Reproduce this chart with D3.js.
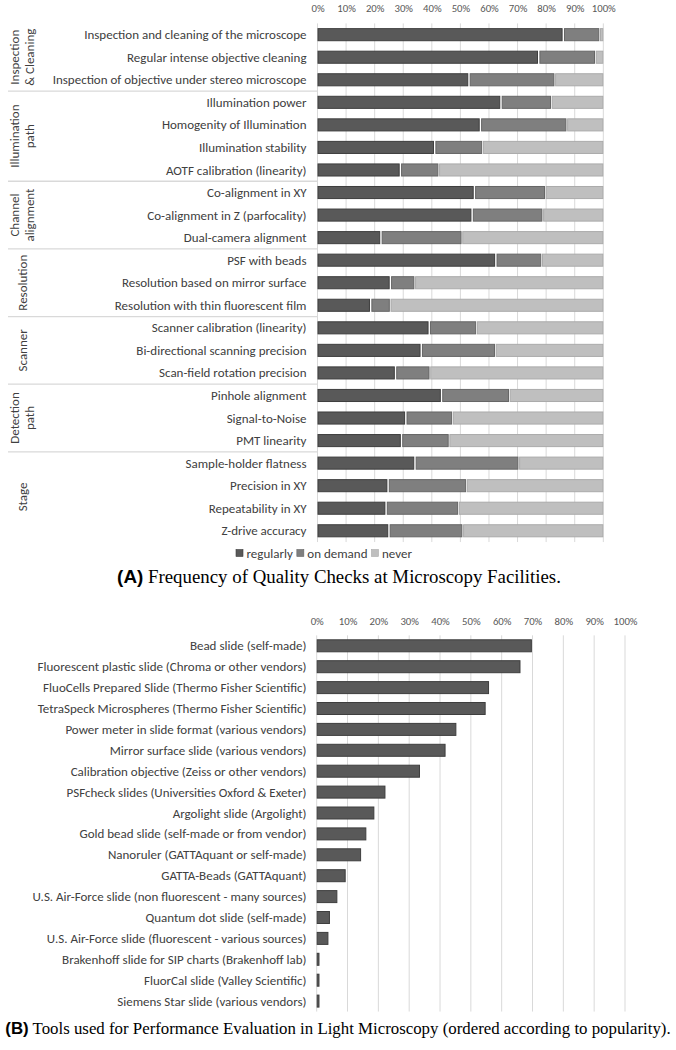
<!DOCTYPE html>
<html>
<head>
<meta charset="utf-8">
<script src="https://cdn.jsdelivr.net/npm/d3@7"></script>
<style>
  html, body { margin: 0; padding: 0; background: #fff; }
  svg { display: block; }
</style>
</head>
<body>
<svg id="chart" width="676" height="1050"></svg>
<script>
// ---------------- DATA ----------------
const checkCategories = [
  "Inspection and cleaning of the microscope",
  "Regular intense objective cleaning",
  "Inspection of objective under stereo microscope",
  "Illumination power",
  "Homogenity of Illumination",
  "Illumination stability",
  "AOTF calibration (linearity)",
  "Co-alignment in XY",
  "Co-alignment in Z (parfocality)",
  "Dual-camera alignment",
  "PSF with beads",
  "Resolution based on mirror surface",
  "Resolution with thin fluorescent film",
  "Scanner calibration (linearity)",
  "Bi-directional scanning precision",
  "Scan-field rotation precision",
  "Pinhole alignment",
  "Signal-to-Noise",
  "PMT linearity",
  "Sample-holder flatness",
  "Precision in XY",
  "Repeatability in XY",
  "Z-drive accuracy"
];
const groupNames = [
  ["Inspection", "& Cleaning"],
  ["Illumination", "path"],
  ["Channel", "alignment"],
  ["Resolution"],
  ["Scanner"],
  ["Detection", "path"],
  ["Stage"]
];
const groupSizes = [3, 4, 3, 3, 3, 3, 4];

const regularly = [86.0, 77.4, 53.0, 64.2, 57.0, 41.0, 29.0, 54.9, 54.1, 22.2, 62.4, 25.5, 18.6, 39.1, 36.3, 27.3, 43.4, 30.9, 29.4, 34.1, 24.7, 24.0, 25.0];
const onDemand  = [12.6, 19.7, 29.9, 17.5, 30.1, 16.6, 13.3, 24.7, 24.6, 28.2, 15.9,  8.4,  6.7, 16.4, 25.8, 11.9, 23.6, 16.2, 16.5, 36.2, 27.3, 25.2, 25.7];
const never     = [ 1.4,  2.9, 17.1, 18.3, 12.9, 42.4, 57.7, 20.4, 21.3, 49.6, 21.7, 66.1, 74.7, 44.5, 37.9, 60.8, 33.0, 52.9, 54.1, 29.7, 48.0, 50.8, 49.3];
const seriesNames = ["regularly", "on demand", "never"];

const toolCategories = [
  "Bead slide (self-made)",
  "Fluorescent plastic slide (Chroma or other vendors)",
  "FluoCells Prepared Slide (Thermo Fisher Scientific)",
  "TetraSpeck Microspheres (Thermo Fisher Scientific)",
  "Power meter in slide format (various vendors)",
  "Mirror surface slide (various vendors)",
  "Calibration objective (Zeiss or other vendors)",
  "PSFcheck slides (Universities Oxford & Exeter)",
  "Argolight slide (Argolight)",
  "Gold bead slide (self-made or from vendor)",
  "Nanoruler (GATTAquant or self-made)",
  "GATTA-Beads (GATTAquant)",
  "U.S. Air-Force slide (non fluorescent - many sources)",
  "Quantum dot slide (self-made)",
  "U.S. Air-Force slide (fluorescent - various sources)",
  "Brakenhoff slide for SIP charts (Brakenhoff lab)",
  "FluorCal slide (Valley Scientific)",
  "Siemens Star slide (various vendors)"
];
const toolShare = [69.8, 66.1, 55.9, 54.8, 45.3, 41.8, 33.5, 22.3, 18.7, 16.1, 14.4, 9.4, 6.7, 4.3, 3.8, 0.9, 0.9, 0.9];

const percentTicks = [0, 10, 20, 30, 40, 50, 60, 70, 80, 90, 100];
const captionA = ["(A)", " Frequency of Quality Checks at Microscopy Facilities."];
const captionB = ["(B)", " Tools used for Performance Evaluation in Light Microscopy (ordered according to popularity)."];

// ---------------- STYLE ----------------
const FONT = "Carlito, 'Liberation Sans Narrow', 'Open Sans', sans-serif";
const SERIF = "'Liberation Serif', 'DejaVu Serif', serif";
const fills   = ["#595959", "#7f7f7f", "#bfbfbf"];
const strokes = ["#3e3e3e", "#666666", "#ababab"];
const textCol = "#404040";
const gridCol = "#d9d9d9";

const svg = d3.select("#chart");

// font fitting helper: choose size so that a reference string has target width
function fitSize(text, family, weight, target, base) {
  const t = svg.append("text").attr("font-family", family).attr("font-size", base)
    .attr("font-weight", weight).text(text);
  const w = t.node().getComputedTextLength();
  t.remove();
  return base * target / w;
}
const labelSize = fitSize("Inspection of objective under stereo microscope", FONT, "normal", 254, 12);
const tickSize = fitSize("100%", FONT, "normal", 24, 11);

// ---------------- CHART A ----------------
const xA = d3.scaleLinear().domain([0, 100]).range([317.5, 603.3]);
const yA = d3.scaleBand().domain(checkCategories).range([23.4, 23.4 + 23 * 22.55])
  .paddingInner(0.42).paddingOuter(0.21);

const gA = svg.append("g");

// gridlines
gA.append("g").selectAll("line").data(percentTicks).join("line")
  .attr("x1", d => xA(d)).attr("x2", d => xA(d))
  .attr("y1", yA.range()[0]).attr("y2", yA.range()[1])
  .attr("stroke", gridCol).attr("stroke-width", 1);

// top axis labels
const axA = d3.axisTop(xA).tickValues(percentTicks).tickFormat(d => d + "%").tickSize(0).tickPadding(0);
gA.append("g").attr("transform", "translate(0,12)").call(axA)
  .call(g => g.select(".domain").remove())
  .selectAll("text").attr("font-family", FONT).attr("font-size", tickSize).attr("fill", "#595959");

// stacked segments
const stackData = checkCategories.map((c, i) => {
  const vals = [regularly[i], onDemand[i], never[i]];
  let acc = 0;
  return vals.map((v, k) => { const s = acc; acc += v; return { cat: c, k, x0: s, x1: acc }; });
});
gA.append("g").selectAll("g").data(stackData).join("g")
  .selectAll("rect").data(d => d).join("rect")
  .attr("x", d => xA(d.x0) + (d.k > 0 ? 1.2 : 0.5))
  .attr("width", d => Math.max(0.5, xA(d.x1) - xA(d.x0) - (d.k > 0 ? 1.7 : 1.7)))
  .attr("y", d => yA(d.cat) + 0.5)
  .attr("height", yA.bandwidth() - 1)
  .attr("fill", d => fills[d.k])
  .attr("stroke", d => strokes[d.k]).attr("stroke-width", 1);

// category labels
gA.append("g").selectAll("text").data(checkCategories).join("text")
  .attr("x", 306.5).attr("y", d => yA(d) + yA.bandwidth() / 2)
  .attr("dy", "0.35em").attr("text-anchor", "end")
  .attr("font-family", FONT).attr("font-size", labelSize).attr("fill", textCol)
  .text(d => d);

// group separators and group labels
let startIdx = 0;
const groupInfo = groupSizes.map((n, gi) => {
  const s = startIdx; startIdx += n;
  return { names: groupNames[gi], s, e: startIdx - 1 };
});
const step = yA.step();
gA.append("g").selectAll("line").data(groupInfo.slice(1)).join("line")
  .attr("x1", 8).attr("x2", xA(0))
  .attr("y1", d => yA(checkCategories[d.s]) - step * 0.21)
  .attr("y2", d => yA(checkCategories[d.s]) - step * 0.21)
  .attr("stroke", gridCol).attr("stroke-width", 1.3);

groupInfo.forEach(g => {
  const yTop = yA(checkCategories[g.s]) - step * 0.21;
  const yBot = yA(checkCategories[g.e]) + yA.bandwidth() + step * 0.21;
  const yc = (yTop + yBot) / 2;
  const n = g.names.length;
  const lineH = 15;
  g.names.forEach((nm, li) => {
    const xc = 22 + (li - (n - 1) / 2) * lineH;
    gA.append("text")
      .attr("transform", `translate(${xc},${yc}) rotate(-90)`)
      .attr("text-anchor", "middle").attr("dy", "0.35em")
      .attr("font-family", FONT).attr("font-size", labelSize).attr("fill", textCol)
      .text(nm);
  });
});

// legend
const leg = gA.append("g").attr("transform", "translate(236,553)");
let lx = 0;
seriesNames.forEach((nm, k) => {
  leg.append("rect").attr("x", lx).attr("y", -3.5).attr("width", 7).attr("height", 7)
    .attr("fill", fills[k]).attr("stroke", strokes[k]).attr("stroke-width", 0.6);
  const t = leg.append("text").attr("x", lx + 10.5).attr("dy", "0.35em")
    .attr("font-family", FONT).attr("font-size", labelSize).attr("fill", textCol).text(nm);
  lx += 10.5 + t.node().getComputedTextLength() + 4;
});

// caption helper
function caption(parts, cx, cy, targetW) {
  const size = 15;
  const t = svg.append("text").attr("y", cy).attr("font-family", SERIF).attr("font-size", size).attr("fill", "#000");
  t.append("tspan").attr("font-weight", "bold").attr("font-family", "'Liberation Sans', Arial, sans-serif").text(parts[0]);
  t.append("tspan").text(parts[1]);
  let w = t.node().getComputedTextLength();
  const s2 = size * targetW / w;
  t.attr("font-size", s2);
  w = t.node().getComputedTextLength();
  t.attr("x", cx - w / 2);
}
caption(captionA, 339, 583, 444);

// ---------------- CHART B ----------------
const xB = d3.scaleLinear().domain([0, 100]).range([316.7, 625]);
const yB = d3.scaleBand().domain(toolCategories).range([635.35, 635.35 + 18 * 20.9])
  .paddingInner(0.378).paddingOuter(0.189);

const gB = svg.append("g");
gB.append("g").selectAll("line").data(percentTicks).join("line")
  .attr("x1", d => xB(d)).attr("x2", d => xB(d))
  .attr("y1", yB.range()[0]).attr("y2", yB.range()[1])
  .attr("stroke", gridCol).attr("stroke-width", 1);

const axB = d3.axisTop(xB).tickValues(percentTicks).tickFormat(d => d + "%").tickSize(0).tickPadding(0);
gB.append("g").attr("transform", "translate(0,625)").call(axB)
  .call(g => g.select(".domain").remove())
  .selectAll("text").attr("font-family", FONT).attr("font-size", tickSize).attr("fill", "#595959");

gB.append("g").selectAll("rect").data(toolCategories).join("rect")
  .attr("x", xB(0) + 0.5)
  .attr("y", d => yB(d) + 0.5)
  .attr("width", (d, i) => Math.max(1, xB(toolShare[i]) - xB(0) - 1))
  .attr("height", yB.bandwidth() - 1)
  .attr("fill", fills[0]).attr("stroke", strokes[0]).attr("stroke-width", 1);

gB.append("g").selectAll("text").data(toolCategories).join("text")
  .attr("x", 306.5).attr("y", d => yB(d) + yB.bandwidth() / 2)
  .attr("dy", "0.35em").attr("text-anchor", "end")
  .attr("font-family", FONT).attr("font-size", labelSize).attr("fill", textCol)
  .text(d => d);

caption(captionB, 338, 1034, 666);
</script>
</body>
</html>
